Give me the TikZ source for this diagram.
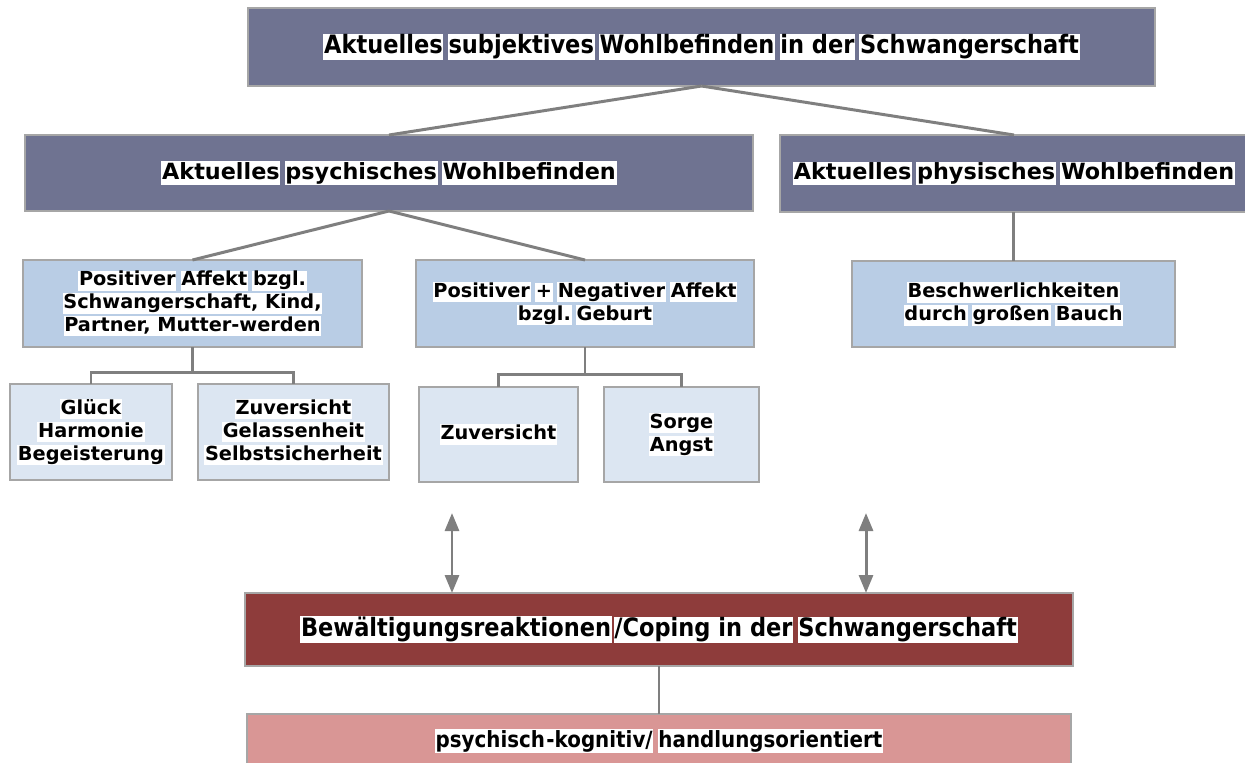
\documentclass[tikz,border=0pt]{standalone}
\usepackage{fontspec}
\setmainfont{DejaVu Sans}
\newfontfamily\condfont{DejaVu Sans}[FakeStretch=0.89]
\usetikzlibrary{arrows.meta}
\definecolor{slate}{HTML}{6F7391}
\definecolor{lblue}{HTML}{B9CDE5}
\definecolor{llblue}{HTML}{DCE6F2}
\definecolor{dred}{HTML}{8E3C3B}
\definecolor{pink}{HTML}{D99695}
\definecolor{conn}{HTML}{7F7F7F}
\definecolor{bord}{HTML}{A6A6A6}
\newcommand\hl[1]{{\setlength\fboxsep{0.4pt}\colorbox{white}{\vphantom{Ag}#1}}}
\newcommand\gp{\hspace{2.5pt}}
\newcommand\bx[7]{\node[#6, minimum width={(#4-#2)*0.02cm}, minimum height={(#5-#3)*0.02cm}] (#1) at ({(#2+#4)/2},{(#3+#5)/2}) {#7};}
\tikzset{
  x=0.02cm, y=-0.02cm,
  base/.style={draw=bord, line width=0.7pt, inner sep=0pt, outer sep=0pt, align=center, text=black},
  slatebox/.style={base, fill=slate, font=\bfseries\fontsize{12.7}{15}\selectfont},
  titlebox/.style={base, fill=slate, font=\condfont\bfseries\fontsize{14.4}{17}\selectfont},
  midbox/.style={base, fill=lblue, font=\bfseries\fontsize{11}{13}\selectfont},
  lowbox/.style={base, fill=llblue, font=\bfseries\fontsize{11}{13}\selectfont},
  copebox/.style={base, fill=dred, font=\condfont\bfseries\fontsize{14.4}{17}\selectfont},
  pinkbox/.style={base, fill=pink, font=\condfont\bfseries\fontsize{12.7}{15}\selectfont},
  conn/.style={draw=conn, line width=1.7pt},
  dbl/.style={conn, {Triangle[length=0.36cm,width=0.28cm]}-{Triangle[length=0.36cm,width=0.28cm]}},
}
\begin{document}
\begin{tikzpicture}
\useasboundingbox (0,0) rectangle (1245,762);
\bx{top}{248}{8}{1155}{86}{titlebox}{\hl{Aktuelles}\gp\hl{subjektives}\gp\hl{Wohlbefinden}\gp\hl{in der}\gp\hl{Schwangerschaft}}
\bx{psy}{25}{135}{753}{211}{slatebox}{\hl{Aktuelles}\gp\hl{psychisches}\gp\hl{Wohlbefinden}}
\bx{phy}{780}{135}{1248}{212}{slatebox}{\hl{Aktuelles}\gp\hl{physisches}\gp\hl{Wohlbefinden}}
\bx{posa}{23}{260}{362}{347}{midbox}{\hl{Positiver}\gp\hl{Affekt}\gp\hl{bzgl.}\\\hl{Schwangerschaft, Kind,}\\\hl{Partner, Mutter-werden}}
\bx{pna}{416}{260}{754}{347}{midbox}{\hl{Positiver}\gp\hl{+}\gp\hl{Negativer}\gp\hl{Affekt}\\\hl{bzgl.}\gp\hl{Geburt}}
\bx{besch}{852}{261}{1175}{347}{midbox}{\hl{Beschwerlichkeiten}\\\hl{durch}\gp\hl{großen}\gp\hl{Bauch}}
\bx{glueck}{10}{384}{172}{480}{lowbox}{\hl{Glück}\\\hl{Harmonie}\\\hl{Begeisterung}}
\bx{zuv1}{198}{384}{389}{480}{lowbox}{\hl{Zuversicht}\\\hl{Gelassenheit}\\\hl{Selbstsicherheit}}
\bx{zuv2}{419}{387}{578}{482}{lowbox}{\hl{Zuversicht}}
\bx{sorge}{604}{387}{759}{482}{lowbox}{\hl{Sorge}\\\hl{Angst}}
\bx{cope}{245}{593}{1073}{666}{copebox}{\hl{Bewältigungsreaktionen}\hspace{1pt}\hl{/Coping in der}\gp\hl{Schwangerschaft}}
\bx{psk}{247}{714}{1071}{768}{pinkbox}{\hl{psychisch}\hl{-kognitiv/}\gp\hl{handlungsorientiert}}
\draw[conn] (top.south) -- (psy.north);
\draw[conn] (top.south) -- (phy.north);
\draw[conn] (psy.south) -- (posa.north);
\draw[conn] (psy.south) -- (pna.north);
\draw[conn] (phy.south -| besch.north) -- (besch.north);
\draw[conn] (posa.south) -- ++(0,25) coordinate (pj);
\draw[conn] (glueck.north) |- (pj) -| (zuv1.north);
\draw[conn] (pna.south) -- ++(0,27) coordinate (nj);
\draw[conn] (zuv2.north) |- (nj) -| (sorge.north);
\coordinate (a1) at (452,513);
\coordinate (a2) at (866,513);
\draw[dbl] (a1) -- (a1 |- cope.north);
\draw[dbl] (a2) -- (a2 |- cope.north);
\draw[conn] (cope.south) -- (psk.north);
\end{tikzpicture}
\end{document}
